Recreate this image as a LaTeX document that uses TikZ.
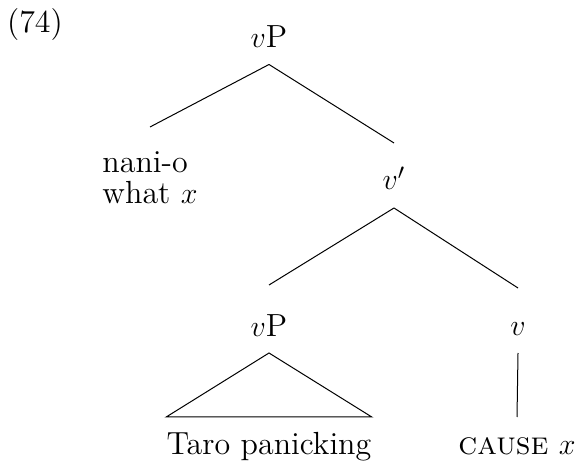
\documentclass[tikz,border=0pt,12pt]{standalone}
\begin{document}
\begin{tikzpicture}[x=.4pt,y=-.4pt,cat/.style={inner sep=0pt,anchor=base,font=\fontsize{12.8}{15.4}\selectfont}]
\useasboundingbox (0,0) rectangle (578,470);
\node[cat] (ex) at (35,33) {(74)};
\node[cat] (top) at (269,48) {$v$P};
\node[cat] (nani) at (150,173) {\renewcommand{\arraystretch}{.76}\begin{tabular}[t]{@{}l@{}}nani-o\\what $x$\end{tabular}};
\node[cat] (vbar) at (394,190) {$v'$};
\node[cat] (low) at (269,337) {$v$P};\node[cat] (v) at (518,336) {$v$};
\node[cat] (taro) at (269,455) {Taro panicking};\node[cat] (cause) at (517,455) {\textsc{cause} $x$};
\draw ([yshift=-6.6pt]top.base)--([yshift=18.4pt]nani.base);\draw ([yshift=-6.6pt]top.base)--([yshift=18.8pt]vbar.base);
\draw ([yshift=-7.2pt]vbar.base)--([yshift=20.8pt]low.base);\draw ([yshift=-7.2pt]vbar.base)--([yshift=19.2pt]v.base);
\draw ([yshift=-6.4pt]low.base)--([yshift=15.2pt]taro.base west)--([yshift=15.2pt]taro.base east)--cycle;
\draw ([yshift=-6.8pt]v.base)--([yshift=15.2pt]cause.base);
\end{tikzpicture}
\end{document}
